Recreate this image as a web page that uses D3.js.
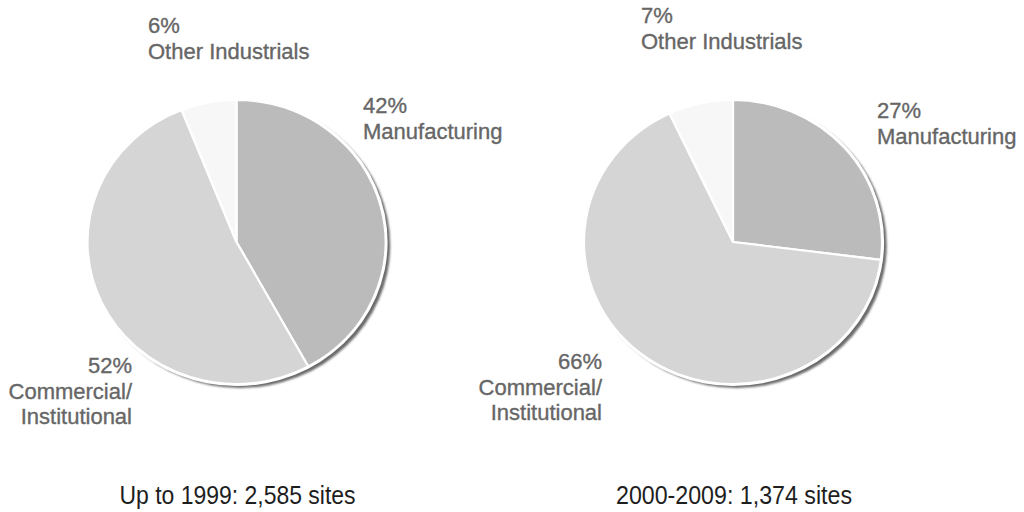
<!DOCTYPE html>
<html>
<head>
<meta charset="utf-8">
<script src="https://cdn.jsdelivr.net/npm/d3@7"></script>
<style>
  html, body { margin: 0; padding: 0; background: #ffffff; }
  svg { display: block; }
</style>
</head>
<body>
<svg id="chart" width="1024" height="512"></svg>
<script>
// ---- data ----
const categories = ["Manufacturing", "Commercial/Institutional", "Other Industrials"];
const valuesUpTo1999 = [42, 52, 6];
const values2000to2009 = [27, 66, 7];
const chartTitles = ["Up to 1999: 2,585 sites", "2000-2009: 1,374 sites"];
const labelLines = [
  ["Manufacturing"],
  ["Commercial/", "Institutional"],
  ["Other Industrials"]
];

// ---- styles / layout ----
const sliceColors = ["#bbbbbb", "#d5d5d5", "#f7f7f7"];
const labelColor = "#666666";
const titleColor = "#1e1e1e";
const ry = 142, rx = 149;

const svg = d3.select("#chart");
const defs = svg.append("defs");
defs.append("filter").attr("id", "blur")
  .attr("x", "-10%").attr("y", "-10%").attr("width", "120%").attr("height", "120%")
  .append("feGaussianBlur").attr("stdDeviation", 0.9);

const pies = [
  { values: valuesUpTo1999, title: chartTitles[0], cx: 236.5, cy: 242,
    labelPos: [
      { x: 363, y: 113, anchor: "start" },
      { x: 132, y: 373, anchor: "end" },
      { x: 148, y: 33, anchor: "start" }
    ] },
  { values: values2000to2009, title: chartTitles[1], cx: 733, cy: 242,
    labelPos: [
      { x: 877, y: 118, anchor: "start" },
      { x: 602, y: 369, anchor: "end" },
      { x: 641, y: 23, anchor: "start" }
    ] }
];

const pieGen = d3.pie().sort(null).value(d => d).startAngle(0).endAngle(2 * Math.PI);
const arcGen = d3.arc().innerRadius(0).outerRadius(ry);

pies.forEach(p => {
  const g = svg.append("g")
    .attr("transform", `translate(${p.cx},${p.cy}) scale(${rx / ry},1)`);

  // drop shadow
  g.append("ellipse")
    .attr("cx", 3.5).attr("cy", 3).attr("rx", ry + 1).attr("ry", ry + 1)
    .attr("fill", "#6a6a6a").attr("filter", "url(#blur)");
  // white rim
  g.append("circle").attr("r", ry + 2).attr("fill", "#ffffff");

  const arcs = pieGen(p.values);
  g.selectAll("path.slice")
    .data(arcs)
    .join("path")
    .attr("class", "slice")
    .attr("d", arcGen)
    .attr("fill", (d, i) => sliceColors[i])
    .attr("stroke", "#ffffff")
    .attr("stroke-width", 2.2)
    .attr("stroke-linejoin", "round")
    .attr("vector-effect", "non-scaling-stroke");

  // labels
  arcs.forEach((a, i) => {
    const lp = p.labelPos[i];
    const t = svg.append("text")
      .attr("x", lp.x).attr("y", lp.y)
      .attr("text-anchor", lp.anchor)
      .attr("font-family", "'Liberation Sans', Arial, sans-serif")
      .attr("font-size", 22)
      .attr("fill", labelColor)
      .attr("stroke", labelColor)
      .attr("stroke-width", 0.35);
    t.append("tspan").attr("x", lp.x).attr("dy", 0).text(p.values[i] + "%");
    labelLines[i].forEach(line => {
      t.append("tspan").attr("x", lp.x).attr("dy", 25.5).text(line);
    });
  });

  // title
  svg.append("text")
    .attr("x", p.cx + 1).attr("y", 504)
    .attr("text-anchor", "middle")
    .attr("font-family", "'Liberation Sans', Arial, sans-serif")
    .attr("font-size", 26)
    .attr("textLength", 236)
    .attr("lengthAdjust", "spacingAndGlyphs")
    .attr("fill", titleColor)
    .text(p.title);
});
</script>
</body>
</html>
